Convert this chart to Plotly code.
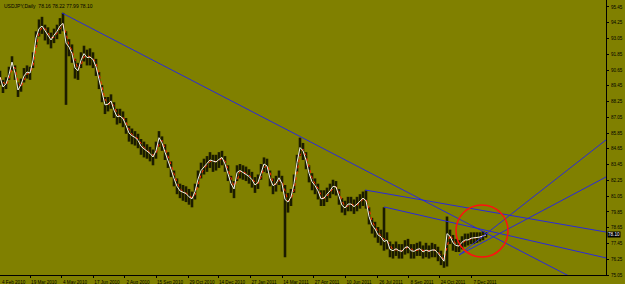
import plotly.graph_objects as go
import pandas as pd

# ---- data ----
# bar index (trading days from the left edge, sampled every 3 bars)
bars = list(range(0, 487, 3))

close = [90.12, 89.36, 89.60, 90.30, 91.26, 90.42, 89.13, 89.55, 90.20, 90.50,
         90.42, 91.41, 93.10, 93.80, 94.00, 93.65, 93.30, 92.94, 93.30, 93.60,
         94.00, 94.20, 92.70, 92.40, 91.90, 90.80, 90.60, 91.40, 91.90, 91.60,
         91.64, 91.45, 90.90, 89.90, 88.90, 88.00, 88.05, 88.30, 87.60, 87.10,
         87.15, 86.95, 86.45, 85.85, 85.65, 85.52, 85.30, 84.85, 84.65, 84.50,
         84.30, 84.03, 84.50, 85.50, 85.10, 84.40, 83.80, 83.10, 82.40, 81.80,
         81.45, 81.35, 81.25, 81.00, 80.85, 81.40, 82.35, 83.00, 83.30, 83.55,
         83.80, 83.70, 83.65, 83.85, 84.00, 83.50, 82.80, 82.00, 81.60, 82.85,
         83.00, 82.85, 82.75, 82.55, 82.30, 81.90, 82.10, 82.90, 83.50, 83.35,
         82.40, 81.85, 82.00, 82.45, 82.00, 80.80, 80.60, 81.00, 82.00, 83.60,
         84.75, 84.50, 83.80, 82.80, 82.15, 81.85, 81.45, 80.85, 80.90, 81.20,
         81.45, 81.80, 81.75, 81.05, 80.35, 80.15, 80.45, 80.45, 80.25, 80.45,
         80.70, 80.90, 80.70, 79.50, 78.85, 78.55, 78.10, 77.95, 77.60, 77.70,
         77.00, 76.90, 77.05, 76.90, 76.85, 77.15, 77.20, 76.90, 76.85, 77.00,
         77.05, 76.80, 76.95, 76.85, 76.95, 76.95, 76.70, 76.35, 76.10, 78.20,
         78.00, 77.50, 77.30, 77.25, 77.55, 77.72, 77.72, 77.85, 77.87, 77.94,
         77.94, 78.02, 78.10]

high = [90.6, 89.9, 90.1, 90.9, 91.7, 91.0, 89.7, 90.0, 90.8, 91.0,
        90.9, 92.0, 93.6, 94.5, 94.7, 94.1, 93.9, 93.5, 93.8, 94.1,
        94.6, 95.0, 93.6, 93.0, 92.6, 91.5, 91.2, 92.0, 92.5, 92.2,
        92.3, 92.0, 91.5, 90.5, 89.5, 88.6, 88.6, 88.8, 88.2, 87.7,
        87.7, 87.5, 87.0, 86.4, 86.2, 86.0, 85.8, 85.4, 85.2, 85.0,
        84.8, 84.6, 85.2, 86.0, 85.6, 85.0, 84.4, 83.7, 83.0, 82.4,
        82.0, 81.9, 81.8, 81.6, 81.4, 82.0, 83.0, 83.6, 83.9, 84.1,
        84.4, 84.2, 84.2, 84.4, 84.5, 84.1, 83.4, 82.6, 82.2, 83.4,
        83.5, 83.4, 83.3, 83.1, 82.9, 82.5, 82.7, 83.5, 84.0, 83.9,
        83.0, 82.4, 82.6, 83.0, 82.6, 81.9, 81.3, 81.6, 82.7, 84.2,
        85.5, 85.1, 84.4, 83.4, 82.8, 82.4, 82.0, 81.5, 81.5, 81.7,
        82.0, 82.3, 82.2, 81.6, 80.9, 80.7, 81.0, 81.0, 80.8, 81.0,
        81.2, 81.4, 81.5, 80.2, 79.4, 79.1, 78.7, 78.5, 80.2, 78.3,
        77.6, 77.4, 77.6, 77.4, 77.4, 77.7, 77.8, 77.4, 77.4, 77.5,
        77.6, 77.3, 77.5, 77.3, 77.5, 77.4, 77.2, 76.9, 76.6, 79.5,
        78.5, 78.1, 77.8, 77.7, 78.0, 78.2, 78.2, 78.3, 78.3, 78.3,
        78.3, 78.4, 78.3]

low = [89.5, 88.9, 89.2, 89.9, 90.6, 89.9, 88.6, 89.0, 89.7, 90.0,
       89.9, 90.8, 92.4, 93.2, 93.4, 92.9, 92.6, 92.3, 92.7, 93.0,
       93.4, 93.6, 88.0, 91.7, 91.2, 90.0, 89.9, 90.8, 91.3, 91.0,
       91.0, 90.8, 90.2, 89.2, 88.2, 87.3, 87.5, 87.7, 87.0, 86.5,
       86.6, 86.3, 85.8, 85.2, 85.0, 84.9, 84.7, 84.2, 84.0, 83.9,
       83.7, 83.4, 83.9, 84.8, 84.5, 83.8, 83.2, 82.5, 81.8, 81.2,
       80.9, 80.7, 80.6, 80.4, 80.2, 80.8, 81.7, 82.4, 82.7, 82.9,
       83.2, 82.9, 83.0, 83.2, 83.4, 82.9, 82.2, 81.3, 80.9, 82.2,
       82.4, 82.3, 82.2, 82.0, 81.7, 81.3, 81.6, 82.3, 82.9, 82.8,
       81.8, 81.2, 81.4, 81.9, 81.4, 76.4, 79.8, 80.3, 81.3, 82.9,
       84.1, 83.8, 83.1, 82.1, 81.5, 81.2, 80.8, 80.3, 80.3, 80.6,
       80.9, 81.2, 81.1, 80.4, 79.8, 79.6, 79.9, 79.9, 79.7, 79.9,
       80.1, 80.3, 80.1, 78.9, 78.2, 77.9, 77.5, 77.3, 76.9, 77.0,
       76.4, 76.3, 76.5, 76.3, 76.3, 76.6, 76.7, 76.3, 76.3, 76.5,
       76.5, 76.3, 76.4, 76.3, 76.4, 76.4, 76.1, 75.8, 75.6, 75.7,
       77.4, 76.9, 76.8, 76.8, 77.0, 77.2, 77.3, 77.4, 77.4, 77.5,
       77.6, 77.7, 77.9]

# trend lines drawn on the chart: (bar, price) -> (bar, price)
trend_lines = [
    ((62, 94.99), (606, 73.51)),
    ((365, 81.52), (606, 78.32)),
    ((384, 80.23), (606, 76.35)),
    ((459, 76.57), (606, 85.33)),
    ((459, 76.57), (606, 82.51)),
]
circle_box = (456, 76.42, 508, 80.38)  # x0, y0, x1, y1

y_ticks = [75.05, 76.25, 77.45, 78.65, 79.85, 81.05, 82.25, 83.45, 84.65,
           85.85, 87.05, 88.25, 89.45, 90.65, 91.85, 93.05, 94.25, 95.45]
x_tick_bars = [30, 61, 93, 124, 156, 188, 218, 250, 282, 313, 345, 377, 408, 439, 471]
x_tick_text = ["19 Mar 2010", "4 May 2010", "17 Jun 2010", "2 Aug 2010",
               "15 Sep 2010", "29 Oct 2010", "14 Dec 2010", "27 Jan 2011",
               "14 Mar 2011", "27 Apr 2011", "10 Jun 2011", "26 Jul 2011",
               "8 Sep 2011", "24 Oct 2011", "7 Dec 2011"]
first_label = "4 Feb 2010"
title_text = "USDJPY,Daily  78.16 78.22 77.99 78.10"
last_price = 78.10

BG = "#808000"
FONT = "Liberation Sans"

fig = go.Figure()

# high-low bars
sx, sy = [], []
for b, h, l in zip(bars, high, low):
    sx += [b, b, None]
    sy += [l, h, None]
fig.add_trace(go.Scatter(x=sx, y=sy, mode="lines",
                         line=dict(color="#1c1c00", width=2.6),
                         hoverinfo="skip", showlegend=False))

# red dotted moving average
ma = pd.Series(close).rolling(2, min_periods=1).mean()
fig.add_trace(go.Scatter(x=bars, y=ma, mode="lines",
                         line=dict(color="#ff2a00", width=1, dash="dot"),
                         showlegend=False))

# white price line
fig.add_trace(go.Scatter(x=bars, y=close, mode="lines",
                         line=dict(color="#f4f4e8", width=1),
                         showlegend=False))

# trend lines
for (x0, y0), (x1, y1) in trend_lines:
    fig.add_trace(go.Scatter(x=[x0, x1], y=[y0, y1], mode="lines",
                             line=dict(color="#2a2ad8", width=1),
                             showlegend=False))

fig.add_shape(type="circle", xref="x", yref="y",
              x0=circle_box[0], y0=circle_box[1], x1=circle_box[2], y1=circle_box[3],
              line=dict(color="#ff1010", width=1.5))

fig.add_annotation(text=title_text, xref="paper", yref="paper", x=0.004, y=1,
                   xanchor="left", yanchor="top", yshift=-1, showarrow=False,
                   font=dict(family=FONT, size=5, color="#000000"))
fig.add_annotation(text=first_label, xref="paper", yref="paper", x=0, y=0,
                   xanchor="left", yanchor="top", yshift=-2.5, showarrow=False,
                   font=dict(family=FONT, size=4.6, color="#000000"))
fig.add_annotation(text=f"{last_price:.2f}", xref="paper", yref="y", x=1, y=last_price,
                   xanchor="left", xshift=1, showarrow=False, bgcolor="#000000",
                   borderpad=0,
                   font=dict(family=FONT, size=4.6, color="#ffffff"))

fig.update_layout(
    width=625, height=284,
    margin=dict(l=0, r=19, t=0, b=9),
    paper_bgcolor=BG, plot_bgcolor=BG,
    showlegend=False,
    font=dict(family=FONT, size=4.6, color="#000000"),
)
fig.update_xaxes(range=[0, 606], showgrid=False, zeroline=False,
                 showline=True, linecolor="#000000", linewidth=1,
                 ticks="outside", ticklen=2, tickcolor="#000000",
                 tickvals=x_tick_bars, ticktext=x_tick_text,
                 ticklabelshift=14, ticklabelstandoff=0,
                 tickfont=dict(family=FONT, size=4.6, color="#000000"))
fig.update_yaxes(range=[75.05, 95.98], side="right", showgrid=False, zeroline=False,
                 showline=True, linecolor="#000000", linewidth=1,
                 ticks="outside", ticklen=2, tickcolor="#000000",
                 tickvals=y_ticks, ticktext=[f"{v:.2f}" for v in y_ticks],
                 ticklabelstandoff=1,
                 tickfont=dict(family=FONT, size=4.6, color="#000000"))

fig.write_html("out.html")
